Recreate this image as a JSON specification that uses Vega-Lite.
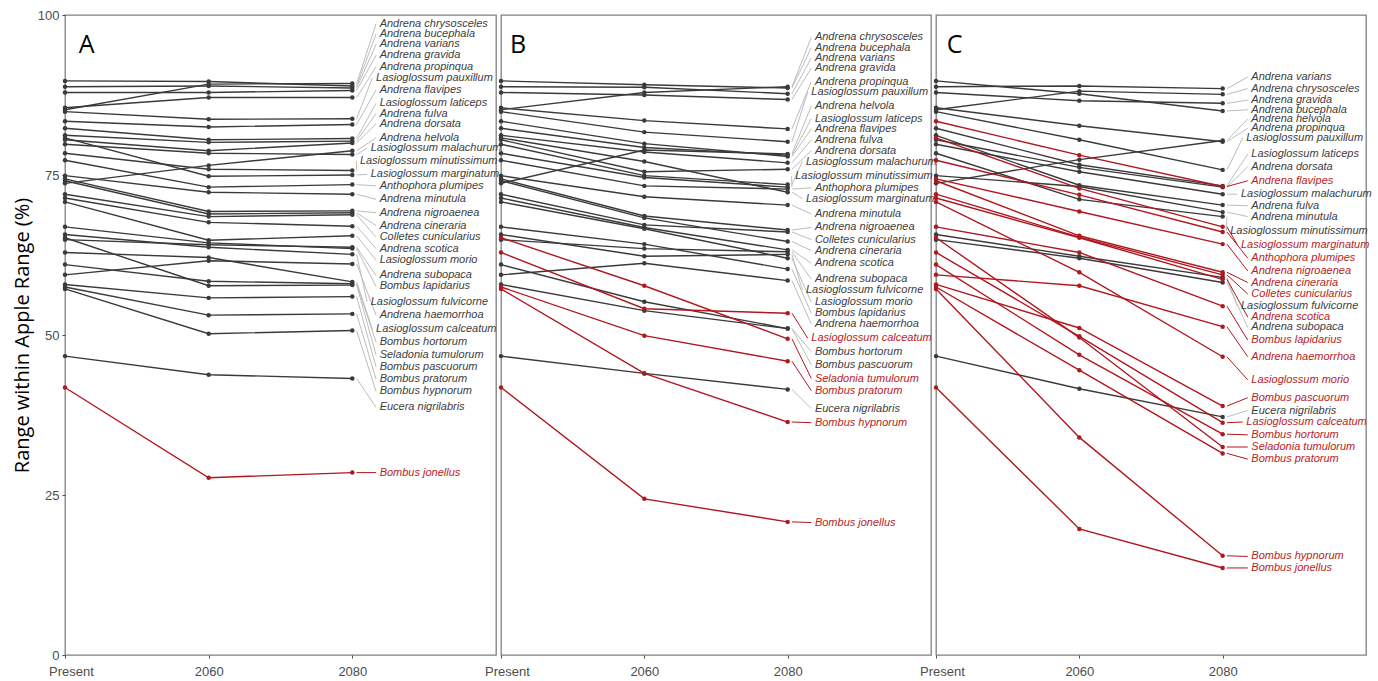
{
  "$schema": "https://vega.github.io/schema/vega-lite/v6.json",
  "padding": {"left": 11, "top": 8, "right": 5, "bottom": 5},
  "background": "white",
  "bounds": "flush",
  "config": {
    "view": {"stroke": "#808080", "strokeWidth": 1.3},
    "axis": {"labelFont": "Liberation Sans", "labelFontSize": 13, "labelColor": "#4d4d4d", "tickColor": "#4d4d4d", "tickSize": 3, "domain": false, "grid": false},
    "axisX": {"labelPadding": 7, "labelFlush": false, "labelOffset": {"condition": {"test": "datum.value == 0", "value": 6}, "value": 0}},
    "axisY": {"labelPadding": 3}
  },
  "spacing": 5,
  "datasets": {
    "d": [
      {"p":"A","s":"Andrena chrysosceles","a":85.2,"b":89.2,"c":89.3,"ly":98.6,"r":0},
      {"p":"A","s":"Andrena bucephala","a":89.7,"b":89.6,"c":88.9,"ly":97.0,"r":0},
      {"p":"A","s":"Andrena varians","a":88.8,"b":88.9,"c":88.6,"ly":95.4,"r":0},
      {"p":"A","s":"Andrena gravida","a":87.9,"b":87.9,"c":88.2,"ly":93.7,"r":0},
      {"p":"A","s":"Andrena propinqua","a":85.5,"b":87.1,"c":87.1,"ly":91.9,"r":0},
      {"p":"A","s":"Lasioglossum pauxillum","a":84.9,"b":83.7,"c":83.8,"ly":90.2,"r":0},
      {"p":"A","s":"Andrena flavipes","a":83.4,"b":82.5,"c":82.9,"ly":88.3,"r":0},
      {"p":"A","s":"Lasioglossum laticeps","a":82.3,"b":80.5,"c":80.7,"ly":86.2,"r":0},
      {"p":"A","s":"Andrena fulva","a":81.2,"b":80.1,"c":80.3,"ly":84.6,"r":0},
      {"p":"A","s":"Andrena dorsata","a":80.5,"b":78.8,"c":80.0,"ly":83.0,"r":0},
      {"p":"A","s":"Andrena helvola","a":73.7,"b":76.5,"c":78.8,"ly":80.8,"r":0},
      {"p":"A","s":"Lasioglossum malachurum","a":79.8,"b":78.4,"c":78.2,"ly":79.2,"r":0},
      {"p":"A","s":"Lasioglossum minutissimum","a":78.4,"b":75.9,"c":75.7,"ly":77.2,"r":0},
      {"p":"A","s":"Lasioglossum marginatum","a":80.8,"b":74.8,"c":75.0,"ly":75.1,"r":0},
      {"p":"A","s":"Anthophora plumipes","a":77.3,"b":73.1,"c":73.5,"ly":73.3,"r":0},
      {"p":"A","s":"Andrena minutula","a":74.9,"b":72.3,"c":72.0,"ly":71.2,"r":0},
      {"p":"A","s":"Andrena nigroaenea","a":74.4,"b":69.3,"c":69.4,"ly":69.1,"r":0},
      {"p":"A","s":"Andrena cineraria","a":74.1,"b":68.9,"c":69.1,"ly":67.1,"r":0},
      {"p":"A","s":"Colletes cunicularius","a":72.0,"b":68.5,"c":68.8,"ly":65.3,"r":0},
      {"p":"A","s":"Andrena scotica","a":71.4,"b":67.6,"c":67.0,"ly":63.5,"r":0},
      {"p":"A","s":"Lasioglossum morio","a":70.8,"b":64.8,"c":65.5,"ly":61.7,"r":0},
      {"p":"A","s":"Andrena subopaca","a":64.9,"b":64.1,"c":63.7,"ly":59.3,"r":0},
      {"p":"A","s":"Bombus lapidarius","a":66.9,"b":64.4,"c":63.5,"ly":57.6,"r":0},
      {"p":"A","s":"Lasioglossum fulvicorne","a":65.7,"b":63.7,"c":62.6,"ly":55.2,"r":0},
      {"p":"A","s":"Andrena haemorrhoa","a":59.4,"b":61.6,"c":61.1,"ly":53.1,"r":0},
      {"p":"A","s":"Lasioglossum calceatum","a":62.9,"b":62.1,"c":58.3,"ly":50.9,"r":0},
      {"p":"A","s":"Bombus hortorum","a":61.0,"b":58.4,"c":58.0,"ly":48.9,"r":0},
      {"p":"A","s":"Seladonia tumulorum","a":65.2,"b":57.7,"c":57.8,"ly":46.9,"r":0},
      {"p":"A","s":"Bombus pascuorum","a":57.9,"b":55.8,"c":56.0,"ly":45.0,"r":0},
      {"p":"A","s":"Bombus pratorum","a":57.5,"b":53.1,"c":53.3,"ly":43.1,"r":0},
      {"p":"A","s":"Bombus hypnorum","a":57.2,"b":50.2,"c":50.7,"ly":41.2,"r":0},
      {"p":"A","s":"Eucera nigrilabris","a":46.7,"b":43.8,"c":43.2,"ly":38.7,"r":0},
      {"p":"A","s":"Bombus jonellus","a":41.8,"b":27.7,"c":28.5,"ly":28.5,"r":1},

      {"p":"B","s":"Andrena chrysosceles","a":85.2,"b":87.9,"c":88.8,"ly":96.5,"r":0},
      {"p":"B","s":"Andrena bucephala","a":89.7,"b":89.1,"c":88.6,"ly":94.9,"r":0},
      {"p":"B","s":"Andrena varians","a":88.8,"b":88.7,"c":87.7,"ly":93.3,"r":0},
      {"p":"B","s":"Andrena gravida","a":87.9,"b":87.5,"c":86.8,"ly":91.7,"r":0},
      {"p":"B","s":"Andrena propinqua","a":85.5,"b":83.5,"c":82.2,"ly":89.6,"r":0},
      {"p":"B","s":"Lasioglossum pauxillum","a":84.9,"b":81.7,"c":80.2,"ly":88.0,"r":0},
      {"p":"B","s":"Andrena helvola","a":73.7,"b":78.9,"c":78.3,"ly":85.8,"r":0},
      {"p":"B","s":"Lasioglossum laticeps","a":82.3,"b":79.3,"c":78.1,"ly":83.8,"r":0},
      {"p":"B","s":"Andrena flavipes","a":83.4,"b":79.9,"c":77.9,"ly":82.2,"r":0},
      {"p":"B","s":"Andrena fulva","a":81.2,"b":78.6,"c":76.9,"ly":80.5,"r":0},
      {"p":"B","s":"Andrena dorsata","a":80.5,"b":75.5,"c":75.9,"ly":78.8,"r":0},
      {"p":"B","s":"Lasioglossum malachurum","a":79.8,"b":74.9,"c":73.5,"ly":77.1,"r":0},
      {"p":"B","s":"Lasioglossum minutissimum","a":78.4,"b":74.6,"c":73.1,"ly":74.8,"r":0},
      {"p":"B","s":"Anthophora plumipes","a":77.3,"b":73.3,"c":72.8,"ly":73.0,"r":0},
      {"p":"B","s":"Lasioglossum marginatum","a":80.8,"b":77.1,"c":72.3,"ly":71.3,"r":0},
      {"p":"B","s":"Andrena minutula","a":74.9,"b":71.6,"c":70.3,"ly":68.9,"r":0},
      {"p":"B","s":"Andrena nigroaenea","a":74.4,"b":68.6,"c":66.4,"ly":66.8,"r":0},
      {"p":"B","s":"Colletes cunicularius","a":72.0,"b":67.2,"c":66.1,"ly":64.9,"r":0},
      {"p":"B","s":"Andrena cineraria","a":74.1,"b":68.3,"c":64.6,"ly":63.2,"r":0},
      {"p":"B","s":"Andrena scotica","a":71.4,"b":66.8,"c":63.3,"ly":61.2,"r":0},
      {"p":"B","s":"Andrena subopaca","a":64.9,"b":63.5,"c":63.0,"ly":58.7,"r":0},
      {"p":"B","s":"Lasioglossum fulvicorne","a":65.7,"b":62.3,"c":62.6,"ly":57.0,"r":0},
      {"p":"B","s":"Lasioglossum morio","a":70.8,"b":66.6,"c":62.0,"ly":55.1,"r":0},
      {"p":"B","s":"Bombus lapidarius","a":66.9,"b":64.2,"c":60.3,"ly":53.4,"r":0},
      {"p":"B","s":"Andrena haemorrhoa","a":59.4,"b":61.2,"c":58.5,"ly":51.7,"r":0},
      {"p":"B","s":"Lasioglossum calceatum","a":62.9,"b":54.1,"c":53.4,"ly":49.5,"r":1},
      {"p":"B","s":"Bombus hortorum","a":61.0,"b":55.2,"c":51.0,"ly":47.4,"r":0},
      {"p":"B","s":"Bombus pascuorum","a":57.9,"b":53.8,"c":51.0,"ly":45.3,"r":0},
      {"p":"B","s":"Seladonia tumulorum","a":65.2,"b":57.7,"c":49.4,"ly":43.2,"r":1},
      {"p":"B","s":"Bombus pratorum","a":57.5,"b":49.9,"c":45.9,"ly":41.3,"r":1},
      {"p":"B","s":"Eucera nigrilabris","a":46.7,"b":44.0,"c":41.5,"ly":38.5,"r":0},
      {"p":"B","s":"Bombus hypnorum","a":57.2,"b":44.0,"c":36.4,"ly":36.3,"r":1},
      {"p":"B","s":"Bombus jonellus","a":41.8,"b":24.4,"c":20.8,"ly":20.7,"r":1},

      {"p":"C","s":"Andrena varians","a":88.8,"b":88.9,"c":88.5,"ly":90.3,"r":0},
      {"p":"C","s":"Andrena chrysosceles","a":85.2,"b":88.1,"c":87.6,"ly":88.5,"r":0},
      {"p":"C","s":"Andrena gravida","a":87.9,"b":86.6,"c":86.2,"ly":86.7,"r":0},
      {"p":"C","s":"Andrena bucephala","a":89.7,"b":87.7,"c":85.0,"ly":85.2,"r":0},
      {"p":"C","s":"Andrena helvola","a":73.7,"b":77.4,"c":80.4,"ly":83.75,"r":0},
      {"p":"C","s":"Andrena propinqua","a":85.5,"b":82.7,"c":80.2,"ly":82.3,"r":0},
      {"p":"C","s":"Lasioglossum pauxillum","a":84.9,"b":80.5,"c":75.8,"ly":80.8,"r":0},
      {"p":"C","s":"Lasioglossum laticeps","a":82.3,"b":76.6,"c":73.3,"ly":78.3,"r":0},
      {"p":"C","s":"Andrena dorsata","a":80.5,"b":76.2,"c":73.1,"ly":76.3,"r":0},
      {"p":"C","s":"Andrena flavipes","a":83.4,"b":78.1,"c":73.2,"ly":74.1,"r":1},
      {"p":"C","s":"Lasioglossum malachurum","a":79.8,"b":75.5,"c":72.0,"ly":72.0,"r":0},
      {"p":"C","s":"Andrena fulva","a":81.2,"b":73.4,"c":70.3,"ly":70.2,"r":0},
      {"p":"C","s":"Andrena minutula","a":74.9,"b":73.2,"c":69.2,"ly":68.5,"r":0},
      {"p":"C","s":"Lasioglossum minutissimum","a":78.4,"b":71.2,"c":68.5,"ly":66.25,"r":0},
      {"p":"C","s":"Lasioglossum marginatum","a":80.8,"b":72.9,"c":66.9,"ly":64.1,"r":1},
      {"p":"C","s":"Anthophora plumipes","a":77.3,"b":71.9,"c":66.1,"ly":62.0,"r":1},
      {"p":"C","s":"Andrena nigroaenea","a":74.4,"b":69.3,"c":64.2,"ly":60.0,"r":1},
      {"p":"C","s":"Andrena cineraria","a":74.1,"b":65.5,"c":59.8,"ly":58.2,"r":1},
      {"p":"C","s":"Colletes cunicularius","a":72.0,"b":65.3,"c":59.4,"ly":56.4,"r":1},
      {"p":"C","s":"Lasioglossum fulvicorne","a":65.7,"b":62.3,"c":59.0,"ly":54.5,"r":0},
      {"p":"C","s":"Andrena scotica","a":71.4,"b":65.2,"c":58.7,"ly":52.8,"r":1},
      {"p":"C","s":"Andrena subopaca","a":64.9,"b":62.0,"c":58.2,"ly":51.2,"r":0},
      {"p":"C","s":"Bombus lapidarius","a":66.9,"b":62.9,"c":54.5,"ly":49.2,"r":1},
      {"p":"C","s":"Andrena haemorrhoa","a":59.4,"b":57.7,"c":51.3,"ly":46.6,"r":1},
      {"p":"C","s":"Lasioglossum morio","a":70.8,"b":59.8,"c":46.6,"ly":43.0,"r":1},
      {"p":"C","s":"Bombus pascuorum","a":57.9,"b":51.1,"c":38.9,"ly":40.2,"r":1},
      {"p":"C","s":"Eucera nigrilabris","a":46.7,"b":41.6,"c":37.2,"ly":38.2,"r":0},
      {"p":"C","s":"Lasioglossum calceatum","a":62.9,"b":49.8,"c":36.3,"ly":36.4,"r":1},
      {"p":"C","s":"Bombus hortorum","a":61.0,"b":46.9,"c":34.5,"ly":34.4,"r":1},
      {"p":"C","s":"Seladonia tumulorum","a":65.2,"b":49.6,"c":32.5,"ly":32.5,"r":1},
      {"p":"C","s":"Bombus pratorum","a":57.5,"b":44.5,"c":31.5,"ly":30.6,"r":1},
      {"p":"C","s":"Bombus hypnorum","a":57.2,"b":34.0,"c":15.5,"ly":15.4,"r":1},
      {"p":"C","s":"Bombus jonellus","a":41.8,"b":19.7,"c":13.6,"ly":13.6,"r":1}
    ]
  },
  "hconcat": [
    {
      "width": 431, "height": 640,
      "layer": [
        {
          "data": {"name": "d"},
          "transform": [{"filter": "datum.p == 'A'"}, {"calculate": "2.03", "as": "lx1"}, {"calculate": "min(2.19, 2.99 - length(datum.s) * 0.0375) - 0.025", "as": "lx2"}],
          "mark": {"type": "rule", "strokeWidth": 1},
          "encoding": {
            "x": {"field": "lx1", "type": "quantitative", "scale": {"domain": [0, 3], "nice": false, "zero": false}, "axis": {"values": [0, 1, 2], "title": null, "labelExpr": "datum.value == 0 ? 'Present' : datum.value == 1 ? '2060' : '2080'"}},
            "x2": {"field": "lx2"},
            "y": {"field": "c", "type": "quantitative", "scale": {"domain": [0, 100], "nice": false}, "axis": {"values": [0, 25, 50, 75, 100], "title": "Range within Apple Range (%)", "titleFont": "Open Sans", "titleFontSize": 20, "titleFontWeight": "normal", "titleColor": "#000000", "titlePadding": 5}},
            "y2": {"field": "ly"},
            "color": {"condition": {"test": "datum.r == 1", "value": "#b0171f"}, "value": "#bdbdbd"}
          }
        },
        {
          "data": {"name": "d"},
          "transform": [{"filter": "datum.p == 'A' && datum.r == 0"}, {"fold": ["a", "b", "c"], "as": ["k", "v"]}, {"calculate": "indexof(['a','b','c'], datum.k)", "as": "t"}],
          "mark": {"type": "line", "strokeWidth": 1.4, "color": "#3a3a3a"},
          "encoding": {
            "x": {"field": "t", "type": "quantitative"},
            "y": {"field": "v", "type": "quantitative"},
            "detail": {"field": "s", "type": "nominal"},
            "order": {"field": "t", "type": "quantitative"}
          }
        },
        {
          "data": {"name": "d"},
          "transform": [{"filter": "datum.p == 'A' && datum.r == 1"}, {"fold": ["a", "b", "c"], "as": ["k", "v"]}, {"calculate": "indexof(['a','b','c'], datum.k)", "as": "t"}],
          "mark": {"type": "line", "strokeWidth": 1.4, "color": "#b0171f"},
          "encoding": {
            "x": {"field": "t", "type": "quantitative"},
            "y": {"field": "v", "type": "quantitative"},
            "detail": {"field": "s", "type": "nominal"},
            "order": {"field": "t", "type": "quantitative"}
          }
        },
        {
          "data": {"name": "d"},
          "transform": [{"filter": "datum.p == 'A'"}, {"fold": ["a", "b", "c"], "as": ["k", "v"]}, {"calculate": "indexof(['a','b','c'], datum.k)", "as": "t"}],
          "mark": {"type": "circle", "size": 20, "opacity": 1},
          "encoding": {
            "x": {"field": "t", "type": "quantitative"},
            "y": {"field": "v", "type": "quantitative"},
            "color": {"condition": {"test": "datum.r == 1", "value": "#b0171f"}, "value": "#3a3a3a"},
            "order": {"field": "r", "type": "quantitative"}
          }
        },
        {
          "data": {"name": "d"},
          "transform": [{"filter": "datum.p == 'A'"}, {"calculate": "min(2.19, 2.99 - length(datum.s) * 0.0375)", "as": "lx"}],
          "mark": {"type": "text", "align": "left", "baseline": "middle", "font": "Liberation Sans", "fontStyle": "italic", "fontSize": 11},
          "encoding": {
            "x": {"field": "lx", "type": "quantitative"},
            "y": {"field": "ly", "type": "quantitative"},
            "text": {"field": "s", "type": "nominal"},
            "color": {"condition": {"test": "datum.r == 1", "value": "#b81c24"}, "value": "#3d3d3d"}
          }
        },
        {
          "data": {"values": [{"l": "A", "x": 0.15, "y": 95.3}]},
          "mark": {"type": "text", "font": "Open Sans", "fontSize": 25, "color": "#000000", "align": "center", "baseline": "middle"},
          "encoding": {
            "x": {"field": "x", "type": "quantitative"},
            "y": {"field": "y", "type": "quantitative"},
            "text": {"field": "l", "type": "nominal"}
          }
        }
      ]
    },
    {
      "width": 430, "height": 640,
      "layer": [
        {
          "data": {"name": "d"},
          "transform": [{"filter": "datum.p == 'B'"}, {"calculate": "2.03", "as": "lx1"}, {"calculate": "min(2.19, 2.99 - length(datum.s) * 0.0375) - 0.025", "as": "lx2"}],
          "mark": {"type": "rule", "strokeWidth": 1},
          "encoding": {
            "x": {"field": "lx1", "type": "quantitative", "scale": {"domain": [0, 3], "nice": false, "zero": false}, "axis": {"values": [0, 1, 2], "title": null, "labelExpr": "datum.value == 0 ? 'Present' : datum.value == 1 ? '2060' : '2080'"}},
            "x2": {"field": "lx2"},
            "y": {"field": "c", "type": "quantitative", "scale": {"domain": [0, 100], "nice": false}, "axis": null},
            "y2": {"field": "ly"},
            "color": {"condition": {"test": "datum.r == 1", "value": "#b0171f"}, "value": "#bdbdbd"}
          }
        },
        {
          "data": {"name": "d"},
          "transform": [{"filter": "datum.p == 'B' && datum.r == 0"}, {"fold": ["a", "b", "c"], "as": ["k", "v"]}, {"calculate": "indexof(['a','b','c'], datum.k)", "as": "t"}],
          "mark": {"type": "line", "strokeWidth": 1.4, "color": "#3a3a3a"},
          "encoding": {
            "x": {"field": "t", "type": "quantitative"},
            "y": {"field": "v", "type": "quantitative", "axis": null},
            "detail": {"field": "s", "type": "nominal"},
            "order": {"field": "t", "type": "quantitative"}
          }
        },
        {
          "data": {"name": "d"},
          "transform": [{"filter": "datum.p == 'B' && datum.r == 1"}, {"fold": ["a", "b", "c"], "as": ["k", "v"]}, {"calculate": "indexof(['a','b','c'], datum.k)", "as": "t"}],
          "mark": {"type": "line", "strokeWidth": 1.4, "color": "#b0171f"},
          "encoding": {
            "x": {"field": "t", "type": "quantitative"},
            "y": {"field": "v", "type": "quantitative", "axis": null},
            "detail": {"field": "s", "type": "nominal"},
            "order": {"field": "t", "type": "quantitative"}
          }
        },
        {
          "data": {"name": "d"},
          "transform": [{"filter": "datum.p == 'B'"}, {"fold": ["a", "b", "c"], "as": ["k", "v"]}, {"calculate": "indexof(['a','b','c'], datum.k)", "as": "t"}],
          "mark": {"type": "circle", "size": 20, "opacity": 1},
          "encoding": {
            "x": {"field": "t", "type": "quantitative"},
            "y": {"field": "v", "type": "quantitative", "axis": null},
            "color": {"condition": {"test": "datum.r == 1", "value": "#b0171f"}, "value": "#3a3a3a"},
            "order": {"field": "r", "type": "quantitative"}
          }
        },
        {
          "data": {"name": "d"},
          "transform": [{"filter": "datum.p == 'B'"}, {"calculate": "min(2.19, 2.99 - length(datum.s) * 0.0375)", "as": "lx"}],
          "mark": {"type": "text", "align": "left", "baseline": "middle", "font": "Liberation Sans", "fontStyle": "italic", "fontSize": 11},
          "encoding": {
            "x": {"field": "lx", "type": "quantitative"},
            "y": {"field": "ly", "type": "quantitative", "axis": null},
            "text": {"field": "s", "type": "nominal"},
            "color": {"condition": {"test": "datum.r == 1", "value": "#b81c24"}, "value": "#3d3d3d"}
          }
        },
        {
          "data": {"values": [{"l": "B", "x": 0.12, "y": 95.3}]},
          "mark": {"type": "text", "font": "Open Sans", "fontSize": 25, "color": "#000000", "align": "center", "baseline": "middle"},
          "encoding": {
            "x": {"field": "x", "type": "quantitative"},
            "y": {"field": "y", "type": "quantitative", "axis": null},
            "text": {"field": "l", "type": "nominal"}
          }
        }
      ]
    },
    {
      "width": 430, "height": 640,
      "layer": [
        {
          "data": {"name": "d"},
          "transform": [{"filter": "datum.p == 'C'"}, {"calculate": "2.03", "as": "lx1"}, {"calculate": "min(2.2, 2.99 - length(datum.s) * 0.0375) - 0.025", "as": "lx2"}],
          "mark": {"type": "rule", "strokeWidth": 1},
          "encoding": {
            "x": {"field": "lx1", "type": "quantitative", "scale": {"domain": [0, 3], "nice": false, "zero": false}, "axis": {"values": [0, 1, 2], "title": null, "labelExpr": "datum.value == 0 ? 'Present' : datum.value == 1 ? '2060' : '2080'"}},
            "x2": {"field": "lx2"},
            "y": {"field": "c", "type": "quantitative", "scale": {"domain": [0, 100], "nice": false}, "axis": null},
            "y2": {"field": "ly"},
            "color": {"condition": {"test": "datum.r == 1", "value": "#b0171f"}, "value": "#bdbdbd"}
          }
        },
        {
          "data": {"name": "d"},
          "transform": [{"filter": "datum.p == 'C' && datum.r == 0"}, {"fold": ["a", "b", "c"], "as": ["k", "v"]}, {"calculate": "indexof(['a','b','c'], datum.k)", "as": "t"}],
          "mark": {"type": "line", "strokeWidth": 1.4, "color": "#3a3a3a"},
          "encoding": {
            "x": {"field": "t", "type": "quantitative"},
            "y": {"field": "v", "type": "quantitative", "axis": null},
            "detail": {"field": "s", "type": "nominal"},
            "order": {"field": "t", "type": "quantitative"}
          }
        },
        {
          "data": {"name": "d"},
          "transform": [{"filter": "datum.p == 'C' && datum.r == 1"}, {"fold": ["a", "b", "c"], "as": ["k", "v"]}, {"calculate": "indexof(['a','b','c'], datum.k)", "as": "t"}],
          "mark": {"type": "line", "strokeWidth": 1.4, "color": "#b0171f"},
          "encoding": {
            "x": {"field": "t", "type": "quantitative"},
            "y": {"field": "v", "type": "quantitative", "axis": null},
            "detail": {"field": "s", "type": "nominal"},
            "order": {"field": "t", "type": "quantitative"}
          }
        },
        {
          "data": {"name": "d"},
          "transform": [{"filter": "datum.p == 'C'"}, {"fold": ["a", "b", "c"], "as": ["k", "v"]}, {"calculate": "indexof(['a','b','c'], datum.k)", "as": "t"}],
          "mark": {"type": "circle", "size": 20, "opacity": 1},
          "encoding": {
            "x": {"field": "t", "type": "quantitative"},
            "y": {"field": "v", "type": "quantitative", "axis": null},
            "color": {"condition": {"test": "datum.r == 1", "value": "#b0171f"}, "value": "#3a3a3a"},
            "order": {"field": "r", "type": "quantitative"}
          }
        },
        {
          "data": {"name": "d"},
          "transform": [{"filter": "datum.p == 'C'"}, {"calculate": "min(2.2, 2.99 - length(datum.s) * 0.0375)", "as": "lx"}],
          "mark": {"type": "text", "align": "left", "baseline": "middle", "font": "Liberation Sans", "fontStyle": "italic", "fontSize": 11},
          "encoding": {
            "x": {"field": "lx", "type": "quantitative"},
            "y": {"field": "ly", "type": "quantitative", "axis": null},
            "text": {"field": "s", "type": "nominal"},
            "color": {"condition": {"test": "datum.r == 1", "value": "#b81c24"}, "value": "#3d3d3d"}
          }
        },
        {
          "data": {"values": [{"l": "C", "x": 0.13, "y": 95.3}]},
          "mark": {"type": "text", "font": "Open Sans", "fontSize": 25, "color": "#000000", "align": "center", "baseline": "middle"},
          "encoding": {
            "x": {"field": "x", "type": "quantitative"},
            "y": {"field": "y", "type": "quantitative", "axis": null},
            "text": {"field": "l", "type": "nominal"}
          }
        }
      ]
    }
  ]
}
